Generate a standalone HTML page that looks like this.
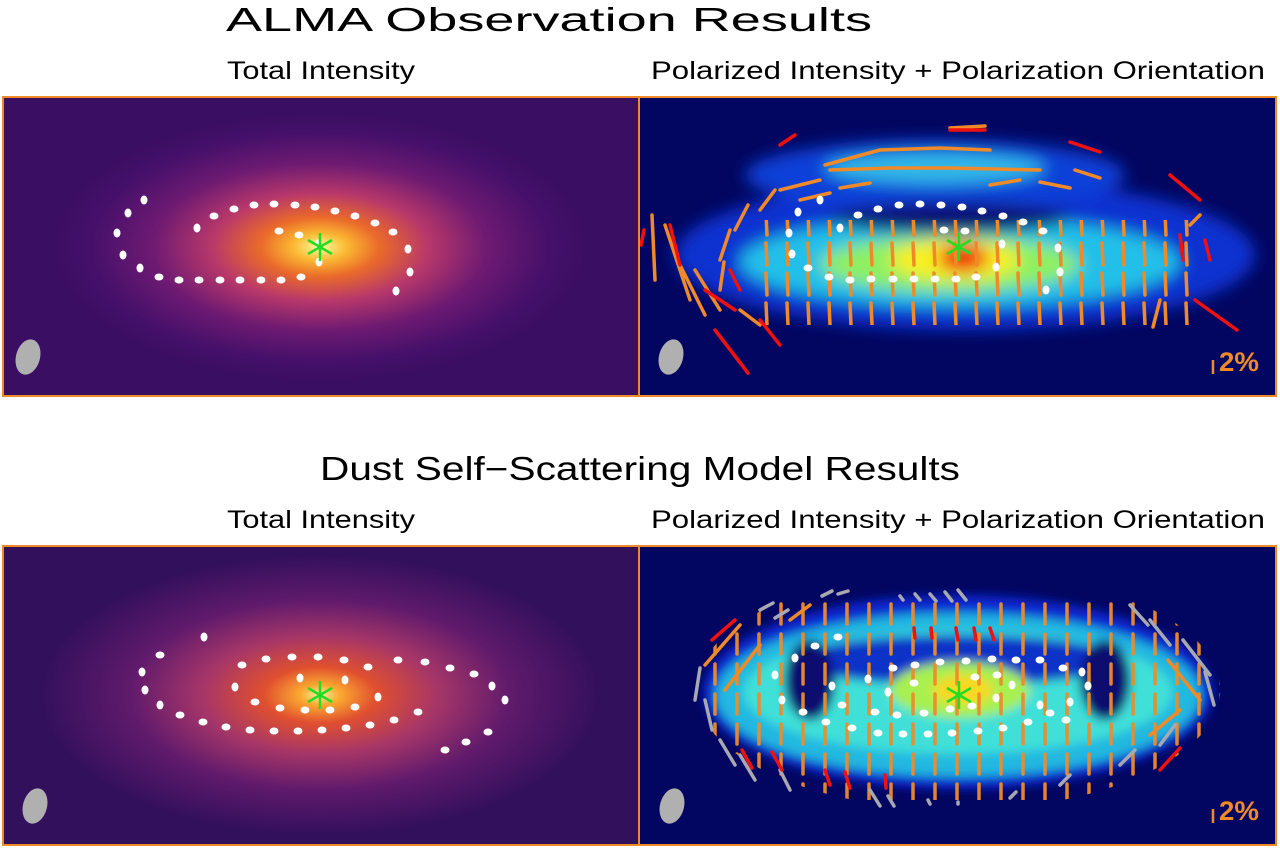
<!DOCTYPE html>
<html><head><meta charset="utf-8"><style>
html,body{margin:0;padding:0;background:#fff;width:1280px;height:848px;overflow:hidden}
svg{display:block}
text{font-family:"Liberation Sans","DejaVu Sans",sans-serif;fill:#000}
</style></head><body>
<svg width="1280" height="848" viewBox="0 0 1280 848" xmlns="http://www.w3.org/2000/svg">
<defs>
<radialGradient id="hot1" cx="320" cy="247" r="1" gradientUnits="userSpaceOnUse" gradientTransform="translate(320 247) scale(270 135) translate(-320 -247)">
<stop offset="0" stop-color="#fcfda0"/><stop offset="0.1" stop-color="#fbb832"/><stop offset="0.22" stop-color="#ea6a2a"/><stop offset="0.4" stop-color="#b8386a"/><stop offset="0.62" stop-color="#6e1a72"/><stop offset="0.85" stop-color="#45106a"/><stop offset="1" stop-color="#3a0e62"/></radialGradient>
<radialGradient id="hot2" cx="320" cy="695" r="1" gradientUnits="userSpaceOnUse" gradientTransform="translate(320 695) scale(280 140) translate(-320 -695)">
<stop offset="0" stop-color="#fcf2a0"/><stop offset="0.07" stop-color="#fbaa30"/><stop offset="0.2" stop-color="#e0502f"/><stop offset="0.42" stop-color="#a63668"/><stop offset="0.68" stop-color="#601a6c"/><stop offset="1" stop-color="#33105c"/></radialGradient>
<filter id="bl" x="-20%" y="-50%" width="140%" height="200%"><feGaussianBlur stdDeviation="8"/></filter>
<filter id="bl2" x="-20%" y="-50%" width="140%" height="200%"><feGaussianBlur stdDeviation="5"/></filter>
<clipPath id="cTR"><rect x="640" y="98" width="636" height="298"/></clipPath>
<clipPath id="cBR"><ellipse cx="958" cy="690" rx="262" ry="120"/></clipPath>
<pattern id="vdash" x="0" y="0" width="22" height="30" patternUnits="userSpaceOnUse"><line x1="11" y1="4" x2="11" y2="24" stroke="#f08a28" stroke-width="3.5" stroke-linecap="round"/></pattern>
<pattern id="vdash2" x="0" y="0" width="21" height="30" patternUnits="userSpaceOnUse"><line x1="10" y1="3" x2="11" y2="25" stroke="#f08a28" stroke-width="3.5" stroke-linecap="round"/></pattern>
</defs>

<text x="226" y="31" font-size="33" textLength="646" lengthAdjust="spacingAndGlyphs">ALMA Observation Results</text>
<text x="227" y="79" font-size="25" textLength="188" lengthAdjust="spacingAndGlyphs">Total Intensity</text>
<text x="651" y="79" font-size="25" textLength="614" lengthAdjust="spacingAndGlyphs">Polarized Intensity + Polarization Orientation</text>
<text x="320" y="480" font-size="33" textLength="640" lengthAdjust="spacingAndGlyphs">Dust Self−Scattering Model Results</text>
<text x="227" y="528" font-size="25" textLength="188" lengthAdjust="spacingAndGlyphs">Total Intensity</text>
<text x="651" y="528" font-size="25" textLength="614" lengthAdjust="spacingAndGlyphs">Polarized Intensity + Polarization Orientation</text>

<!-- top left -->
<rect x="3" y="97" width="636" height="299" fill="#3a0e62"/>
<rect x="3" y="97" width="636" height="299" fill="url(#hot1)"/>
<g fill="#fff">
<ellipse cx="144" cy="200" rx="3.5" ry="4.5"/><ellipse cx="128" cy="213" rx="3.5" ry="4.5"/><ellipse cx="117" cy="233" rx="3.5" ry="4.5"/><ellipse cx="123" cy="255" rx="3.5" ry="4.5"/><ellipse cx="140" cy="268" rx="3.5" ry="4.5"/><ellipse cx="159" cy="277" rx="4.5" ry="3.5"/><ellipse cx="179" cy="280" rx="4.5" ry="3.5"/><ellipse cx="199" cy="280" rx="4.5" ry="3.5"/><ellipse cx="220" cy="280" rx="4.5" ry="3.5"/><ellipse cx="240" cy="280" rx="4.5" ry="3.5"/><ellipse cx="261" cy="280" rx="4.5" ry="3.5"/><ellipse cx="281" cy="280" rx="4.5" ry="3.5"/><ellipse cx="301" cy="277" rx="4.5" ry="3.5"/><ellipse cx="319" cy="262" rx="3.5" ry="4.5"/><ellipse cx="318" cy="244" rx="3.5" ry="4.5"/><ellipse cx="299" cy="235" rx="4.5" ry="3.5"/><ellipse cx="279" cy="231" rx="4.5" ry="3.5"/><ellipse cx="197" cy="228" rx="3.5" ry="4.5"/><ellipse cx="214" cy="216" rx="4.5" ry="3.5"/><ellipse cx="234" cy="209" rx="4.5" ry="3.5"/><ellipse cx="254" cy="205" rx="4.5" ry="3.5"/><ellipse cx="274" cy="204" rx="4.5" ry="3.5"/><ellipse cx="295" cy="205" rx="4.5" ry="3.5"/><ellipse cx="315" cy="207" rx="4.5" ry="3.5"/><ellipse cx="335" cy="211" rx="4.5" ry="3.5"/><ellipse cx="355" cy="216" rx="4.5" ry="3.5"/><ellipse cx="375" cy="223" rx="4.5" ry="3.5"/><ellipse cx="393" cy="232" rx="4.5" ry="3.5"/><ellipse cx="408" cy="249" rx="3.5" ry="4.5"/><ellipse cx="410" cy="272" rx="3.5" ry="4.5"/><ellipse cx="396" cy="291" rx="3.5" ry="4.5"/>
</g>
<g stroke="#22dd22" stroke-width="2.5"><line x1="320" y1="233" x2="320" y2="261"/><line x1="308" y1="240" x2="332" y2="254"/><line x1="308" y1="254" x2="332" y2="240"/></g>
<ellipse cx="28" cy="357" rx="12" ry="18" transform="rotate(15 28 357)" fill="#b0b0b0"/>

<!-- top right -->
<rect x="640" y="97" width="636" height="299" fill="#020660"/>
<g clip-path="url(#cTR)">
<g filter="url(#bl)">
<ellipse cx="965" cy="255" rx="290" ry="75" fill="#1030d0"/>
<ellipse cx="935" cy="175" rx="190" ry="35" fill="#1040d8"/>
<ellipse cx="960" cy="262" rx="220" ry="45" fill="#20c0e8"/>
<ellipse cx="935" cy="168" rx="110" ry="16" fill="#30b8e8"/>
<ellipse cx="950" cy="264" rx="130" ry="28" fill="#90f060"/>
<ellipse cx="955" cy="260" rx="65" ry="20" fill="#f8f020"/>
<ellipse cx="963" cy="258" rx="25" ry="14" fill="#f02010"/>
<ellipse cx="950" cy="218" rx="120" ry="15" fill="#081070"/>
</g>
<rect x="760" y="220" width="430" height="105" fill="url(#vdash2)"/>
<g stroke="#f08a28" stroke-width="3.5" stroke-linecap="round" fill="none">
<path d="M825 165 L880 150 M880 150 L940 148 M940 148 L990 150 M830 170 L890 168 M890 168 L950 168 M950 168 L1040 170 M780 190 L820 180 M800 200 L830 193 M840 188 L870 183 M990 185 L1020 180 M1040 182 L1070 188 M1075 170 L1100 178 M760 210 L775 190 M735 230 L748 205 M720 260 L730 230 M720 290 L724 262 M652 215 L655 280 M665 225 L690 300 M680 265 L705 315 M695 270 L720 310 M740 310 L760 325 M1160 300 L1153 327 M1200 215 L1190 225 M950 128 L985 126"/>
</g>
<g stroke="#f01010" stroke-width="3.5" stroke-linecap="round">
<line x1="715" y1="330" x2="748" y2="373"/><line x1="760" y1="320" x2="780" y2="345"/><line x1="1195" y1="300" x2="1237" y2="330"/><line x1="1170" y1="175" x2="1200" y2="200"/><line x1="780" y1="145" x2="795" y2="135"/><line x1="950" y1="130" x2="985" y2="130"/><line x1="1070" y1="142" x2="1100" y2="152"/><line x1="670" y1="225" x2="680" y2="265"/><line x1="705" y1="290" x2="735" y2="310"/><line x1="1180" y1="235" x2="1183" y2="260"/><line x1="1205" y1="240" x2="1210" y2="260"/><line x1="730" y1="270" x2="740" y2="290"/><line x1="644" y1="230" x2="641" y2="245"/>
</g>
<g fill="#fff">
<ellipse cx="820" cy="200" rx="3.5" ry="4.5"/><ellipse cx="798" cy="212" rx="3.5" ry="4.5"/><ellipse cx="789" cy="233" rx="3.5" ry="4.5"/><ellipse cx="792" cy="254" rx="3.5" ry="4.5"/><ellipse cx="808" cy="268" rx="4.5" ry="3.5"/><ellipse cx="829" cy="277" rx="4.5" ry="3.5"/><ellipse cx="850" cy="280" rx="4.5" ry="3.5"/><ellipse cx="871" cy="279" rx="4.5" ry="3.5"/><ellipse cx="893" cy="279" rx="4.5" ry="3.5"/><ellipse cx="914" cy="279" rx="4.5" ry="3.5"/><ellipse cx="935" cy="279" rx="4.5" ry="3.5"/><ellipse cx="956" cy="279" rx="4.5" ry="3.5"/><ellipse cx="976" cy="277" rx="4.5" ry="3.5"/><ellipse cx="996" cy="267" rx="3.5" ry="4.5"/><ellipse cx="965" cy="231" rx="4.5" ry="3.5"/><ellipse cx="944" cy="230" rx="4.5" ry="3.5"/><ellipse cx="1002" cy="244" rx="3.5" ry="4.5"/><ellipse cx="840" cy="228" rx="3.5" ry="4.5"/><ellipse cx="858" cy="215" rx="4.5" ry="3.5"/><ellipse cx="878" cy="209" rx="4.5" ry="3.5"/><ellipse cx="899" cy="205" rx="4.5" ry="3.5"/><ellipse cx="920" cy="204" rx="4.5" ry="3.5"/><ellipse cx="941" cy="205" rx="4.5" ry="3.5"/><ellipse cx="962" cy="207" rx="4.5" ry="3.5"/><ellipse cx="982" cy="211" rx="4.5" ry="3.5"/><ellipse cx="1003" cy="216" rx="4.5" ry="3.5"/><ellipse cx="1023" cy="222" rx="4.5" ry="3.5"/><ellipse cx="1043" cy="231" rx="4.5" ry="3.5"/><ellipse cx="1058" cy="248" rx="3.5" ry="4.5"/><ellipse cx="1060" cy="272" rx="3.5" ry="4.5"/><ellipse cx="1046" cy="290" rx="3.5" ry="4.5"/>
</g>
</g>
<g stroke="#22dd22" stroke-width="2.5"><line x1="959" y1="233" x2="959" y2="261"/><line x1="947" y1="240" x2="971" y2="254"/><line x1="947" y1="254" x2="971" y2="240"/></g>
<ellipse cx="671" cy="357" rx="12" ry="18" transform="rotate(15 671 357)" fill="#b0b0b0"/>
<line x1="1213" y1="360" x2="1213" y2="374" stroke="#f08a28" stroke-width="2.5"/>
<text x="1219" y="371" font-size="27" font-weight="bold" textLength="40" lengthAdjust="spacingAndGlyphs" style="fill:#f08a28">2%</text>

<!-- bottom left -->
<rect x="3" y="546" width="636" height="299" fill="#33105c"/>
<rect x="3" y="546" width="636" height="299" fill="url(#hot2)"/>
<g fill="#fff">
<ellipse cx="204" cy="637" rx="3.5" ry="4.5"/><ellipse cx="160" cy="655" rx="4.5" ry="3.5"/><ellipse cx="142" cy="672" rx="3.5" ry="4.5"/><ellipse cx="145" cy="690" rx="3.5" ry="4.5"/><ellipse cx="160" cy="705" rx="3.5" ry="4.5"/><ellipse cx="180" cy="715" rx="4.5" ry="3.5"/><ellipse cx="203" cy="722" rx="4.5" ry="3.5"/><ellipse cx="226" cy="727" rx="4.5" ry="3.5"/><ellipse cx="250" cy="730" rx="4.5" ry="3.5"/><ellipse cx="274" cy="731" rx="4.5" ry="3.5"/><ellipse cx="298" cy="731" rx="4.5" ry="3.5"/><ellipse cx="322" cy="730" rx="4.5" ry="3.5"/><ellipse cx="346" cy="728" rx="4.5" ry="3.5"/><ellipse cx="370" cy="725" rx="4.5" ry="3.5"/><ellipse cx="394" cy="720" rx="4.5" ry="3.5"/><ellipse cx="418" cy="712" rx="4.5" ry="3.5"/><ellipse cx="235" cy="687" rx="3.5" ry="4.5"/><ellipse cx="255" cy="702" rx="4.5" ry="3.5"/><ellipse cx="280" cy="708" rx="4.5" ry="3.5"/><ellipse cx="305" cy="710" rx="4.5" ry="3.5"/><ellipse cx="330" cy="710" rx="4.5" ry="3.5"/><ellipse cx="355" cy="707" rx="4.5" ry="3.5"/><ellipse cx="378" cy="697" rx="3.5" ry="4.5"/><ellipse cx="242" cy="665" rx="4.5" ry="3.5"/><ellipse cx="266" cy="659" rx="4.5" ry="3.5"/><ellipse cx="292" cy="657" rx="4.5" ry="3.5"/><ellipse cx="318" cy="657" rx="4.5" ry="3.5"/><ellipse cx="344" cy="660" rx="4.5" ry="3.5"/><ellipse cx="368" cy="667" rx="4.5" ry="3.5"/><ellipse cx="300" cy="678" rx="3.5" ry="4.5"/><ellipse cx="345" cy="680" rx="3.5" ry="4.5"/><ellipse cx="398" cy="660" rx="4.5" ry="3.5"/><ellipse cx="425" cy="662" rx="4.5" ry="3.5"/><ellipse cx="450" cy="668" rx="4.5" ry="3.5"/><ellipse cx="474" cy="674" rx="4.5" ry="3.5"/><ellipse cx="492" cy="686" rx="3.5" ry="4.5"/><ellipse cx="505" cy="700" rx="3.5" ry="4.5"/><ellipse cx="488" cy="732" rx="4.5" ry="3.5"/><ellipse cx="466" cy="742" rx="4.5" ry="3.5"/><ellipse cx="445" cy="750" rx="4.5" ry="3.5"/>
</g>
<g stroke="#22dd22" stroke-width="2.5"><line x1="320" y1="681" x2="320" y2="709"/><line x1="308" y1="688" x2="332" y2="702"/><line x1="308" y1="702" x2="332" y2="688"/></g>
<ellipse cx="35" cy="806" rx="12" ry="18" transform="rotate(15 35 806)" fill="#b0b0b0"/>

<!-- bottom right -->
<rect x="640" y="546" width="636" height="299" fill="#020660"/>
<g filter="url(#bl2)">
<ellipse cx="958" cy="692" rx="255" ry="97" fill="#0828d0"/>
<ellipse cx="958" cy="695" rx="243" ry="82" fill="#20b8e0"/>
<ellipse cx="958" cy="692" rx="215" ry="62" fill="#40e0d8"/>
<ellipse cx="958" cy="660" rx="160" ry="25" fill="#0a30c8"/>
<ellipse cx="1105" cy="680" rx="25" ry="40" fill="#081070"/>
<ellipse cx="810" cy="680" rx="25" ry="40" fill="#081070"/>
<ellipse cx="960" cy="690" rx="70" ry="28" fill="#a8f050"/>
<ellipse cx="963" cy="690" rx="30" ry="15" fill="#f8d820"/>
</g>
<rect x="700" y="600" width="520" height="200" fill="url(#vdash)" clip-path="url(#cBR)" opacity="0.95"/>
<g stroke="#a8a8b0" stroke-width="3.5" stroke-linecap="round">
<line x1="822" y1="596" x2="832" y2="591"/><line x1="838" y1="594" x2="848" y2="591"/><line x1="900" y1="596" x2="903" y2="600"/><line x1="915" y1="594" x2="920" y2="600"/><line x1="930" y1="594" x2="936" y2="601"/><line x1="945" y1="592" x2="952" y2="601"/><line x1="958" y1="590" x2="966" y2="600"/><line x1="760" y1="610" x2="773" y2="603"/><line x1="775" y1="618" x2="788" y2="610"/><line x1="1130" y1="605" x2="1148" y2="625"/><line x1="1150" y1="620" x2="1170" y2="645"/><line x1="1183" y1="640" x2="1210" y2="675"/><line x1="1205" y1="672" x2="1214" y2="705"/><line x1="700" y1="668" x2="695" y2="700"/><line x1="705" y1="700" x2="712" y2="730"/><line x1="720" y1="740" x2="735" y2="765"/><line x1="740" y1="755" x2="755" y2="780"/><line x1="780" y1="770" x2="790" y2="790"/><line x1="870" y1="790" x2="880" y2="806"/><line x1="888" y1="796" x2="894" y2="806"/><line x1="928" y1="800" x2="930" y2="804"/><line x1="958" y1="802" x2="958" y2="804"/><line x1="1010" y1="798" x2="1016" y2="792"/><line x1="1060" y1="785" x2="1070" y2="775"/><line x1="1120" y1="765" x2="1135" y2="750"/><line x1="1160" y1="745" x2="1175" y2="725"/>
</g>
<g stroke="#f01010" stroke-width="3.5" stroke-linecap="round">
<line x1="712" y1="640" x2="735" y2="620"/><line x1="1160" y1="770" x2="1180" y2="748"/><line x1="742" y1="750" x2="752" y2="768"/><line x1="772" y1="752" x2="782" y2="770"/><line x1="825" y1="770" x2="830" y2="785"/><line x1="845" y1="772" x2="850" y2="788"/><line x1="885" y1="775" x2="886" y2="788"/><line x1="914" y1="628" x2="915" y2="638"/><line x1="931" y1="628" x2="932" y2="638"/><line x1="956" y1="628" x2="958" y2="640"/><line x1="974" y1="628" x2="976" y2="640"/><line x1="990" y1="628" x2="994" y2="640"/>
</g>
<g stroke="#f08a28" stroke-width="3.5" stroke-linecap="round">
<line x1="705" y1="665" x2="740" y2="625"/><line x1="725" y1="690" x2="760" y2="645"/><line x1="1168" y1="660" x2="1200" y2="700"/><line x1="1150" y1="735" x2="1180" y2="710"/><line x1="790" y1="620" x2="810" y2="605"/>
</g>
<g fill="#fff">
<ellipse cx="838" cy="637" rx="4.5" ry="3.5"/><ellipse cx="815" cy="646" rx="4.5" ry="3.5"/><ellipse cx="795" cy="658" rx="3.5" ry="4.5"/><ellipse cx="775" cy="675" rx="3.5" ry="4.5"/><ellipse cx="782" cy="700" rx="3.5" ry="4.5"/><ellipse cx="803" cy="712" rx="4.5" ry="3.5"/><ellipse cx="826" cy="722" rx="4.5" ry="3.5"/><ellipse cx="852" cy="728" rx="4.5" ry="3.5"/><ellipse cx="878" cy="733" rx="4.5" ry="3.5"/><ellipse cx="903" cy="734" rx="4.5" ry="3.5"/><ellipse cx="928" cy="734" rx="4.5" ry="3.5"/><ellipse cx="952" cy="733" rx="4.5" ry="3.5"/><ellipse cx="978" cy="731" rx="4.5" ry="3.5"/><ellipse cx="1003" cy="728" rx="4.5" ry="3.5"/><ellipse cx="1028" cy="722" rx="4.5" ry="3.5"/><ellipse cx="1050" cy="713" rx="4.5" ry="3.5"/><ellipse cx="1070" cy="702" rx="3.5" ry="4.5"/><ellipse cx="1088" cy="686" rx="3.5" ry="4.5"/><ellipse cx="1082" cy="672" rx="3.5" ry="4.5"/><ellipse cx="1063" cy="668" rx="4.5" ry="3.5"/><ellipse cx="1040" cy="660" rx="4.5" ry="3.5"/><ellipse cx="1016" cy="660" rx="4.5" ry="3.5"/><ellipse cx="992" cy="659" rx="4.5" ry="3.5"/><ellipse cx="966" cy="661" rx="4.5" ry="3.5"/><ellipse cx="940" cy="662" rx="4.5" ry="3.5"/><ellipse cx="915" cy="665" rx="4.5" ry="3.5"/><ellipse cx="893" cy="668" rx="4.5" ry="3.5"/><ellipse cx="868" cy="679" rx="3.5" ry="4.5"/><ellipse cx="832" cy="686" rx="3.5" ry="4.5"/><ellipse cx="842" cy="705" rx="4.5" ry="3.5"/><ellipse cx="875" cy="712" rx="4.5" ry="3.5"/><ellipse cx="897" cy="715" rx="4.5" ry="3.5"/><ellipse cx="924" cy="713" rx="4.5" ry="3.5"/><ellipse cx="950" cy="709" rx="4.5" ry="3.5"/><ellipse cx="972" cy="706" rx="4.5" ry="3.5"/><ellipse cx="996" cy="698" rx="3.5" ry="4.5"/><ellipse cx="1012" cy="685" rx="3.5" ry="4.5"/><ellipse cx="997" cy="675" rx="4.5" ry="3.5"/><ellipse cx="975" cy="677" rx="4.5" ry="3.5"/><ellipse cx="888" cy="692" rx="3.5" ry="4.5"/><ellipse cx="914" cy="683" rx="4.5" ry="3.5"/><ellipse cx="1040" cy="705" rx="3.5" ry="4.5"/><ellipse cx="1066" cy="720" rx="4.5" ry="3.5"/>
</g>
<g stroke="#22dd22" stroke-width="2.5"><line x1="959" y1="681" x2="959" y2="709"/><line x1="947" y1="688" x2="971" y2="702"/><line x1="947" y1="702" x2="971" y2="688"/></g>
<ellipse cx="672" cy="806" rx="12" ry="18" transform="rotate(15 672 806)" fill="#b0b0b0"/>
<line x1="1213" y1="809" x2="1213" y2="823" stroke="#f08a28" stroke-width="2.5"/>
<text x="1219" y="820" font-size="27" font-weight="bold" textLength="40" lengthAdjust="spacingAndGlyphs" style="fill:#f08a28">2%</text>

<!-- frames -->
<g fill="none" stroke="#f08a28" stroke-width="2">
<rect x="3" y="97" width="1273" height="299"/><line x1="639" y1="97" x2="639" y2="396"/>
<rect x="3" y="546" width="1273" height="299"/><line x1="639" y1="546" x2="639" y2="845"/>
</g>
</svg>
</body></html>
